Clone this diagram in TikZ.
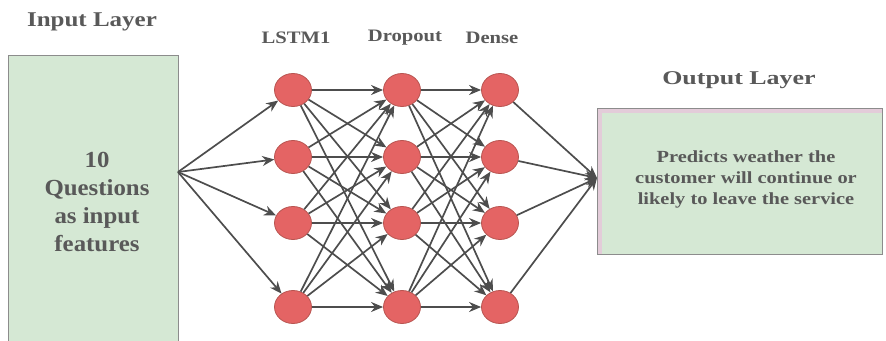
\documentclass[tikz,border=0pt]{standalone}
\usepackage{fontspec}
\setmainfont{Liberation Serif}
\newfontfamily\fA[FakeStretch=1.19]{Liberation Serif}
\newfontfamily\fB[FakeStretch=1.08]{Liberation Serif}
\newfontfamily\fC[FakeStretch=1.18]{Liberation Serif}
\newfontfamily\fD[FakeStretch=1.33]{Liberation Serif}
\newfontfamily\fE[FakeStretch=1.2]{Liberation Serif}
\usetikzlibrary{shapes.geometric,arrows.meta}
\definecolor{boxgreen}{HTML}{D5E8D4}
\definecolor{boxline}{HTML}{8C8C8C}
\definecolor{neuron}{HTML}{E46464}
\definecolor{neuronline}{HTML}{B85450}
\definecolor{edge}{HTML}{4D4D4D}
\definecolor{txt}{HTML}{595959}
\definecolor{pinkish}{HTML}{E3CCD9}
\tikzset{
  neuronnode/.style={ellipse,draw=neuronline,fill=neuron,line width=0.8pt,minimum width=37pt,minimum height=33pt,inner sep=0pt},
  conn/.style={draw=edge,line width=1.7pt,-{Stealth[length=12pt,width=10pt]}},
  layerlabel/.style={text=txt,font=\fC\bfseries\fontsize{17.5}{20}\selectfont},
}
\begin{document}
\begin{tikzpicture}[x=1pt,y=-1pt]
\useasboundingbox (0,0) rectangle (886,340);
% input box
\draw[boxline,fill=boxgreen,line width=0.8pt] (8,55) rectangle (178,360);
\node[text=txt,font=\fA\bfseries\fontsize{21}{24}\selectfont] (inlab) at (92,22) {Input Layer};
\node[text=txt,font=\fB\bfseries\fontsize{23}{28}\selectfont,align=center] (intext) at (97,202) {10\\Questions\\as input\\features};
\coordinate (src) at (178,172);
% output box
\draw[boxline,fill=pinkish,line width=0.8pt] (597,108) rectangle (882,254);
\fill[boxgreen] (602,113) rectangle (881.6,253.6);
\node[text=txt,font=\fD\bfseries\fontsize{19.5}{22}\selectfont] (outlab) at (739,80) {Output Layer};
\node[text=txt,font=\fE\bfseries\fontsize{17}{21}\selectfont,align=center] (outtext) at (746,179) {Predicts weather the\\customer will continue or\\likely to leave the service};
\coordinate (dst) at (597,178);
% layer labels
\node[layerlabel] (l1lab) at (296,38) {LSTM1};
\node[layerlabel] (l2lab) at (405,38) {Dropout};
\node[layerlabel] (l3lab) at (492,38) {Dense};
% neurons
\foreach \i/\y in {1/90,2/157,3/223,4/307}{
  \node[neuronnode] (a\i) at (293,\y) {};
  \node[neuronnode] (b\i) at (402,\y) {};
  \node[neuronnode] (c\i) at (500,\y) {};
}
% connections
\foreach \i in {1,...,4}{
  \draw[conn] (src) -- (a\i);
  \draw[conn] (c\i) -- (dst);
  \foreach \j in {1,...,4}{
    \draw[conn] (a\i) -- (b\j);
    \draw[conn] (b\i) -- (c\j);
  }
}
\end{tikzpicture}
\end{document}
